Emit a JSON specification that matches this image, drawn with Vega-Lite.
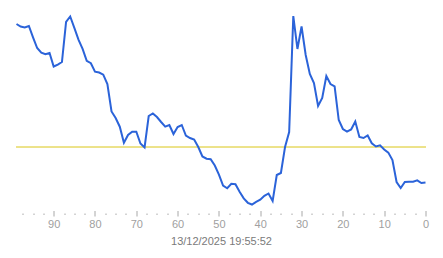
{
  "$schema": "https://vega.github.io/schema/vega-lite/v6.json",
  "autosize": {"type": "none"},
  "width": 409,
  "height": 200,
  "padding": {"left": 16.5, "top": 10, "right": 17.5, "bottom": 48},
  "background": "white",
  "config": {"view": {"stroke": null}},
  "data": {"values": [
    {"t": 99, "v": 186}, {"t": 98, "v": 183.4}, {"t": 97, "v": 182.5}, {"t": 96, "v": 184},
    {"t": 95, "v": 172.7}, {"t": 94, "v": 162}, {"t": 93, "v": 157.3}, {"t": 92, "v": 155.7},
    {"t": 91, "v": 157}, {"t": 90, "v": 143.5}, {"t": 89, "v": 145.4}, {"t": 88, "v": 148},
    {"t": 87, "v": 188}, {"t": 86, "v": 193.5}, {"t": 85, "v": 182.2}, {"t": 84, "v": 170.3},
    {"t": 83, "v": 161.2}, {"t": 82, "v": 149.2}, {"t": 81, "v": 146.8}, {"t": 80, "v": 138.3},
    {"t": 79, "v": 137.5}, {"t": 78, "v": 135.3}, {"t": 77, "v": 126}, {"t": 76, "v": 98.5},
    {"t": 75, "v": 92}, {"t": 74, "v": 83.3}, {"t": 73, "v": 67.3}, {"t": 72, "v": 75},
    {"t": 71, "v": 78.3}, {"t": 70, "v": 78.3}, {"t": 69, "v": 66.5}, {"t": 68, "v": 62.5},
    {"t": 67, "v": 94}, {"t": 66, "v": 96.5}, {"t": 65, "v": 93}, {"t": 64, "v": 88},
    {"t": 63, "v": 83.4}, {"t": 62, "v": 85}, {"t": 61, "v": 76}, {"t": 60, "v": 83},
    {"t": 59, "v": 85}, {"t": 58, "v": 74.5}, {"t": 57, "v": 72}, {"t": 56, "v": 70.5},
    {"t": 55, "v": 63}, {"t": 54, "v": 53.5}, {"t": 53, "v": 51.3}, {"t": 52, "v": 50.8},
    {"t": 51, "v": 44.5}, {"t": 50, "v": 35.4}, {"t": 49, "v": 24.3}, {"t": 48, "v": 21.7},
    {"t": 47, "v": 26.2}, {"t": 46, "v": 25.8}, {"t": 45, "v": 18.2}, {"t": 44, "v": 11.6},
    {"t": 43, "v": 7.2}, {"t": 42, "v": 5.5}, {"t": 41, "v": 8.2}, {"t": 40, "v": 10.3},
    {"t": 39, "v": 14.2}, {"t": 38, "v": 16.5}, {"t": 37, "v": 9}, {"t": 36, "v": 35},
    {"t": 35, "v": 37}, {"t": 34, "v": 63}, {"t": 33, "v": 78}, {"t": 32, "v": 194},
    {"t": 31, "v": 161}, {"t": 30, "v": 183.5}, {"t": 29, "v": 155}, {"t": 28, "v": 136},
    {"t": 27, "v": 127}, {"t": 26, "v": 104}, {"t": 25, "v": 112}, {"t": 24, "v": 134},
    {"t": 23, "v": 126}, {"t": 22, "v": 123.7}, {"t": 21, "v": 90}, {"t": 20, "v": 81},
    {"t": 19, "v": 78.3}, {"t": 18, "v": 80.5}, {"t": 17, "v": 88.5}, {"t": 16, "v": 73},
    {"t": 15, "v": 72}, {"t": 14, "v": 74.5}, {"t": 13, "v": 66.7}, {"t": 12, "v": 63.5},
    {"t": 11, "v": 64.7}, {"t": 10, "v": 60.5}, {"t": 9, "v": 57.4}, {"t": 8, "v": 50},
    {"t": 7, "v": 28}, {"t": 6, "v": 22}, {"t": 5, "v": 28}, {"t": 4, "v": 28.3},
    {"t": 3, "v": 28.3}, {"t": 2, "v": 29.7}, {"t": 1, "v": 27}, {"t": 0, "v": 27.5}
  ]},
  "layer": [
    {
      "mark": {"type": "rule", "color": "#ece28a", "strokeWidth": 1},
      "encoding": {"y": {"datum": 63, "type": "quantitative", "scale": {"domain": [0, 200]}, "axis": null}}
    },
    {
      "mark": {"type": "line", "color": "#2b63d9", "strokeWidth": 2, "interpolate": "linear"},
      "encoding": {
        "x": {
          "field": "t", "type": "quantitative",
          "scale": {"domain": [0, 99], "reverse": true, "nice": false, "zero": false},
          "axis": {
            "title": "13/12/2025 19:55:52",
            "titleFont": "Liberation Sans", "titleFontSize": 11, "titleFontWeight": "normal",
            "titleColor": "#7a7a7a", "titlePadding": 6,
            "values": [0, 2.5, 5, 7.5, 10, 12.5, 15, 17.5, 20, 22.5, 25, 27.5, 30, 32.5, 35, 37.5, 40, 42.5, 45, 47.5, 50, 52.5, 55, 57.5, 60, 62.5, 65, 67.5, 70, 72.5, 75, 77.5, 80, 82.5, 85, 87.5, 90, 92.5, 95, 97.5],
            "labelExpr": "datum.value % 10 === 0 ? datum.label : ''",
            "labelFont": "Liberation Sans", "labelFontSize": 11, "labelColor": "#a0a0a0",
            "labelPadding": 2, "labelFlush": false, "labelOverlap": false,
            "domain": false, "grid": false,
            "tickColor": "#a8a8a8", "tickSize": 6, "tickWidth": 1,
            "tickDash": {"condition": {"test": "datum.value % 10 !== 0", "value": [0, 3, 1.5, 10]}, "value": [0, 0.5, 6, 10]}
          }
        },
        "y": {"field": "v", "type": "quantitative", "scale": {"domain": [0, 200]}, "axis": null}
      }
    }
  ]
}
